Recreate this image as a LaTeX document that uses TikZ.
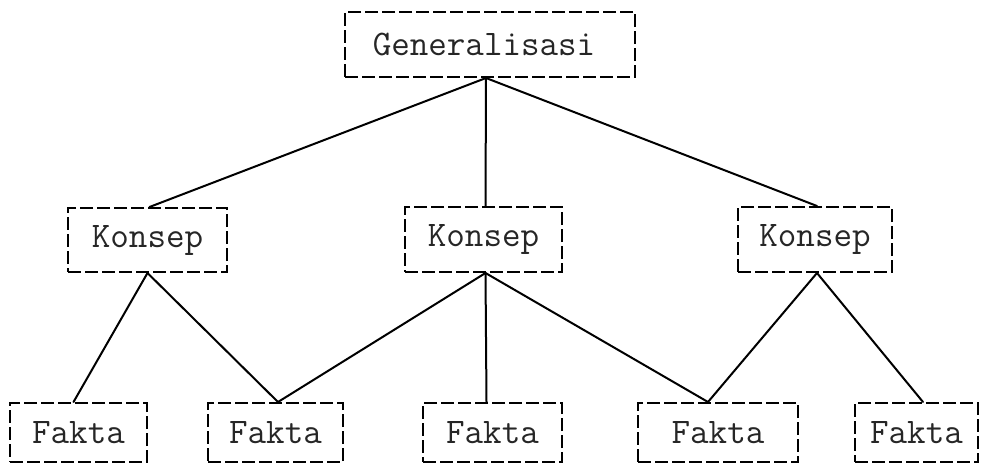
\documentclass[tikz,border=0pt]{standalone}
\usetikzlibrary{positioning}
\begin{document}
\begin{tikzpicture}[x=1pt,y=-1pt,
  box/.style={draw=black, line width=2pt, dash pattern=on 13pt off 4pt,
    inner sep=0pt, font=\fontsize{36}{40}\selectfont\ttfamily, text=black!85},
  link/.style={draw=black, line width=2pt, line cap=round}]
\useasboundingbox (0,0) rectangle (986,466);
\node[box, minimum width=290pt, minimum height=65pt] (gen) at (490,44.5) {\hspace*{-12pt}Generalisasi};
\node[box, minimum width=159pt, minimum height=64pt] (k1) at (147.5,240) {Konsep};
\node[box, minimum width=157pt, minimum height=65pt] (k2) at (483.5,239.5) {Konsep};
\node[box, minimum width=154pt, minimum height=65pt] (k3) at (815,239.5) {Konsep};
\node[box, minimum width=137pt, minimum height=59pt] (f1) at (78.5,432.5) {Fakta};
\node[box, minimum width=135pt, minimum height=59pt] (f2) at (275.5,432.5) {Fakta};
\node[box, minimum width=139pt, minimum height=59pt] (f3) at (492.5,432.5) {Fakta};
\node[box, minimum width=160pt, minimum height=59pt] (f4) at (718,432.5) {Fakta};
\node[box, minimum width=123pt, minimum height=59pt] (f5) at (916.5,432.5) {Fakta};
\draw[link] ([xshift=-4pt]gen.south) -- ([xshift=2pt]k1.north);
\draw[link] ([xshift=-4pt]gen.south) -- ([xshift=2pt]k2.north);
\draw[link] ([xshift=-4pt]gen.south) -- ([xshift=2pt]k3.north);
\draw[link] (k1.south) -- ([xshift=-5pt]f1.north);
\draw[link] (k1.south) -- ([xshift=2.5pt]f2.north);
\draw[link] ([xshift=2pt]k2.south) -- ([xshift=2.5pt]f2.north);
\draw[link] ([xshift=2pt]k2.south) -- ([xshift=-6pt]f3.north);
\draw[link] ([xshift=2pt]k2.south) -- ([xshift=-10pt]f4.north);
\draw[link] ([xshift=2pt]k3.south) -- ([xshift=-10pt]f4.north);
\draw[link] ([xshift=2pt]k3.south) -- ([xshift=6.5pt]f5.north);
\end{tikzpicture}
\end{document}
